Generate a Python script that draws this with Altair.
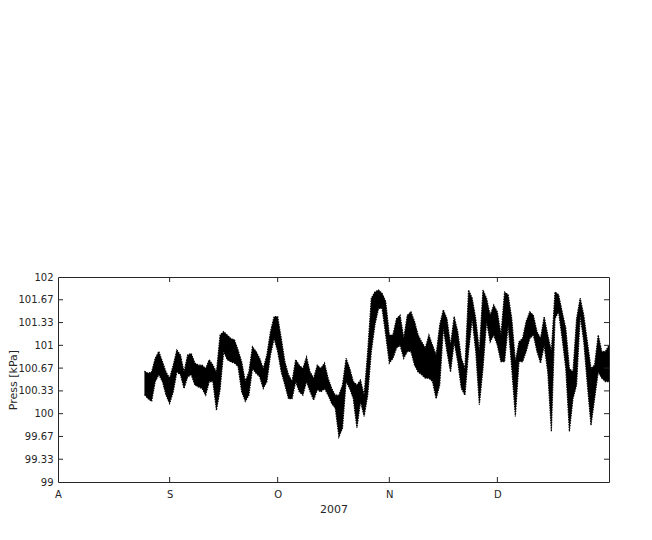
import altair as alt
import pandas as pd

# Days counted from 1 Aug 2007 (day 0); one reading per day
first_day = 24
press_lo = [100.28, 100.22, 100.18, 100.47, 100.57, 100.47, 100.27, 100.15, 100.32, 100.61,
            100.57, 100.37, 100.54, 100.57, 100.42, 100.39, 100.37, 100.27, 100.47, 100.47,
            100.05, 100.35, 100.91, 100.79, 100.76, 100.74, 100.69, 100.32, 100.18, 100.27,
            100.66, 100.59, 100.54, 100.37, 100.47, 100.86, 101.10, 100.91, 100.61, 100.42,
            100.22, 100.22, 100.47, 100.32, 100.27, 100.47, 100.32, 100.20, 100.35, 100.32,
            100.37, 100.27, 100.15, 100.08, 99.66, 99.79, 100.47, 100.37, 100.22, 99.79,
            100.18, 99.96, 100.27, 100.91, 101.30, 101.54, 101.54, 101.15, 100.74, 100.81,
            100.96, 101.00, 100.81, 100.91, 100.91, 100.71, 100.61, 100.57, 100.52, 100.52,
            100.47, 100.22, 100.42, 101.25, 100.91, 100.61, 101.05, 100.76, 100.37, 100.27,
            100.91, 101.39, 100.91, 100.13, 100.66, 101.35, 101.05, 101.15, 101.00, 100.76,
            100.76, 101.30, 100.66, 99.96, 100.76, 100.76, 100.91, 101.10, 101.15, 100.91,
            100.74, 101.00, 100.61, 99.74, 101.39, 101.49, 101.10, 100.66, 99.74, 100.22,
            100.42, 101.44, 101.05, 100.42, 99.83, 100.22, 100.61, 100.52, 100.47, 100.47]
press_hi = [100.62, 100.59, 100.61, 100.81, 100.91, 100.76, 100.61, 100.52, 100.71, 100.93,
            100.86, 100.61, 100.86, 100.88, 100.74, 100.71, 100.71, 100.66, 100.79, 100.71,
            100.61, 101.15, 101.20, 101.15, 101.10, 101.08, 100.93, 100.76, 100.47, 100.61,
            100.98, 100.91, 100.81, 100.66, 100.86, 101.20, 101.42, 101.42, 101.10, 100.76,
            100.57, 100.47, 100.79, 100.71, 100.66, 100.83, 100.61, 100.52, 100.71, 100.66,
            100.74, 100.52, 100.37, 100.27, 100.27, 100.42, 100.81, 100.66, 100.47, 100.42,
            100.49, 100.27, 100.91, 101.69, 101.78, 101.81, 101.76, 101.64, 101.15, 101.15,
            101.39, 101.44, 101.10, 101.44, 101.49, 101.35, 101.15, 101.05, 100.96, 101.15,
            101.00, 100.86, 101.30, 101.52, 101.39, 101.00, 101.42, 101.20, 100.81, 100.66,
            101.81, 101.69, 101.39, 100.91, 101.81, 101.69, 101.44, 101.59, 101.49, 101.15,
            101.78, 101.74, 101.39, 100.76, 101.05, 101.10, 101.35, 101.49, 101.44, 101.20,
            101.10, 101.42, 101.15, 100.91, 101.78, 101.74, 101.49, 101.25, 100.66, 100.61,
            101.39, 101.69, 101.44, 101.05, 100.66, 100.71, 101.15, 100.91, 100.91, 101.00]
days = [first_day + i for i in range(len(press_lo))]

month_starts = [0, 31, 61, 92, 122]
month_labels = ["A", "S", "O", "N", "D"]
y_ticks = [99, 99.3333, 99.6667, 100, 100.3333, 100.6667, 101, 101.3333, 101.6667, 102]
x_domain = [0, 153]
y_domain = [99, 102]

W, H = 551, 205
TXT = "#262626"
FONT = "DejaVu Sans"

df = pd.DataFrame({"day": days, "lo": press_lo, "hi": press_hi})
xt = pd.DataFrame({"day": month_starts[1:]})
yt = pd.DataFrame({"lo": y_ticks[1:-1]})

label_expr = "[" + ",".join(f"'{m}'" for m in month_labels) + "][indexof([" + \
    ",".join(str(m) for m in month_starts) + "], datum.value)]"

xscale = alt.Scale(domain=x_domain, nice=False, zero=False)
yscale = alt.Scale(domain=y_domain, nice=False, zero=False)
xaxis = alt.Axis(values=month_starts, labelExpr=label_expr, title="2007", ticks=False,
                 domain=False, grid=False, labelPadding=7, titlePadding=4, labelFlush=False,
                 labelFontSize=10, titleFontSize=11, labelFont=FONT, titleFont=FONT,
                 labelColor=TXT, titleColor=TXT, titleFontWeight="normal")
yaxis = alt.Axis(values=y_ticks, format=".2~f", title="Press [kPa]", ticks=False,
                 domain=False, grid=False, labelPadding=5, titlePadding=0, labelFlush=False,
                 labelFontSize=10, titleFontSize=11, labelFont=FONT, titleFont=FONT,
                 labelColor=TXT, titleColor=TXT, titleFontWeight="normal")

X = alt.X("day:Q", scale=xscale, axis=xaxis)
Y = alt.Y("lo:Q", scale=yscale, axis=yaxis)

data_band = alt.Chart(df).mark_area(color="black", clip=True).encode(
    x=X, y=Y, y2="hi:Q")
data_lo = alt.Chart(df).mark_line(color="black", strokeWidth=1.2, strokeDash=[1.5, 1],
                                  clip=True).encode(x=X, y=Y)
data_hi = alt.Chart(df).mark_line(color="black", strokeWidth=1.2, strokeDash=[1.5, 1],
                                  clip=True).encode(x=X, y=alt.Y("hi:Q", scale=yscale, axis=yaxis))

tick_top = alt.Chart(xt).mark_rule(color=TXT, strokeWidth=1).encode(
    x=X, y=alt.value(0), y2=alt.value(5))
tick_bot = alt.Chart(xt).mark_rule(color=TXT, strokeWidth=1).encode(
    x=X, y=alt.value(H), y2=alt.value(H - 5))
tick_left = alt.Chart(yt).mark_rule(color=TXT, strokeWidth=1).encode(
    y=Y, x=alt.value(0), x2=alt.value(5))
tick_right = alt.Chart(yt).mark_rule(color=TXT, strokeWidth=1).encode(
    y=Y, x=alt.value(W), x2=alt.value(W - 5))

chart = alt.layer(data_band, data_lo, data_hi, tick_top, tick_bot, tick_left, tick_right).properties(
    width=W, height=H,
    autosize=alt.AutoSizeParams(type="none"),
    padding={"left": 50, "top": 269, "right": 35, "bottom": 50},
    background="white",
).configure_view(stroke=TXT, strokeWidth=1)

chart.save("out.html", embed_options={"renderer": "svg", "actions": False})
